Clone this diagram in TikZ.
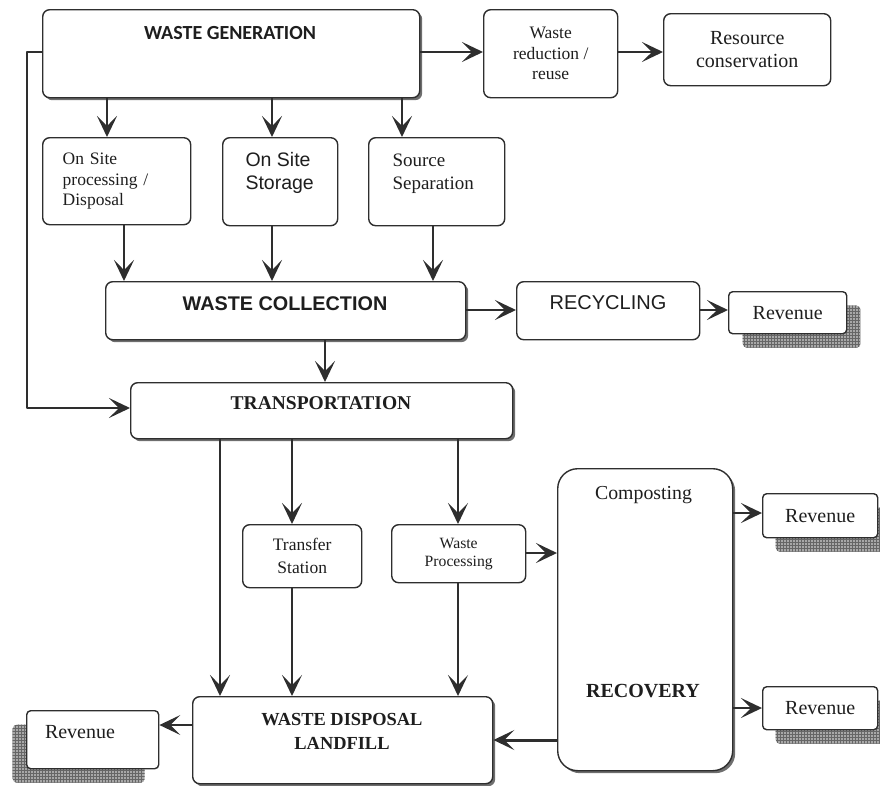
\documentclass[tikz,border=0pt]{standalone}
\usepackage{fontspec}
\setmainfont{Liberation Serif}
\setsansfont{Liberation Sans}
\newfontfamily\calfont{Carlito}
\usepackage{tikz}
\usetikzlibrary{arrows.meta,patterns,positioning,shadows}
\definecolor{swInk}{HTML}{1E1E1E}
\definecolor{swLine}{HTML}{2E2E2E}
\definecolor{swShade}{HTML}{6E6E6E}
\definecolor{swHatch}{HTML}{A8A8A8}
\newcommand\swsize[2]{\fontsize{#1}{#2}\selectfont}
\tikzset{
  sw diagram/.style={text=swInk, line join=round},
  sw plain/.style={draw=swLine, fill=white, line width=1.4pt,
    rounded corners=7pt, inner sep=0pt, anchor=north west, align=center},
  sw box/.style={sw plain, drop shadow={shadow xshift=2.5pt,
    shadow yshift=-2.5pt, fill=swShade, opacity=1}},
  sw rev/.style={sw plain, rounded corners=4pt, font=\swsize{20}{24},
    drop shadow={shadow xshift=#1, shadow yshift=-14pt, fill=swHatch, opacity=1,
      postaction={pattern=grid, pattern color=gray!80!black}}},
  sw arrow/.style={-{Stealth[length=21pt,width=20pt,inset=10pt]}, draw=swLine,
    line width=1.4pt},
  sw thick/.style={sw arrow, line width=2.3pt},
  sw bold/.style={font=\bfseries\swsize{#1}{24}},
  sw sans/.style={font=\sffamily\swsize{#1}{23}}
}
\begin{document}
\begin{tikzpicture}[sw diagram,x=1pt,y=-1pt]
\useasboundingbox (0,0) rectangle (880,785);
% top row
\node[sw box, minimum width=377pt, minimum height=88pt] (gen) at (42,9) {};
\node[font=\calfont\bfseries\swsize{20}{24}] (gentxt) at (230,33) {WASTE GENERATION};
\node[sw plain, minimum width=134pt, minimum height=88pt, font=\swsize{17.5}{20.5}]
  (red) at (483,9) {Waste\\reduction /\\reuse};
\node[sw plain, minimum width=167pt, minimum height=72pt, font=\swsize{20}{22.5}]
  (res) at (663,13) {Resource\\conservation};
% second row
\node[sw plain, minimum width=148pt, minimum height=87pt, text width=108pt,
  align=left, font=\swsize{17.5}{20.5}] (osp) at (42,137) {On Site\\processing /\\Disposal};
\node[sw plain, minimum width=115pt, minimum height=88pt] (oss) at (222,137) {};
\node[sw sans=19.5, align=left, anchor=west] (osstxt) at (242,173) {On Site\\Storage};
\node[sw plain, minimum width=136pt, minimum height=88pt] (ssp) at (368,137) {};
\node[font=\swsize{19}{23}, align=left, anchor=west] (ssptxt) at (389,173.5) {Source\\Separation};
% collection and recycling
\node[sw box, minimum width=360pt, minimum height=58pt] (col) at (105,281) {};
\node[font=\sffamily\bfseries\swsize{19.8}{24}] (coltxt) at (285,303.5) {WASTE COLLECTION};
\node[sw plain, minimum width=183pt, minimum height=58pt] (rcy) at (516,281) {};
\node[sw sans=20] (rcytxt) at (608,303) {RECYCLING};
\node[sw rev=14pt, minimum width=118pt, minimum height=42pt] (rvA) at (728,291) {Revenue};
% transportation
\node[sw box, minimum width=382pt, minimum height=56pt] (trn) at (130,382) {};
\node[sw bold=19.5] (trntxt) at (321,403) {TRANSPORTATION};
\node[sw plain, minimum width=119pt, minimum height=63pt, font=\swsize{17.5}{23}]
  (tfs) at (242,524) {Transfer\\Station};
\node[sw plain, minimum width=134pt, minimum height=58pt, font=\swsize{15.7}{18}]
  (wpr) at (391,524) {Waste\\Processing};
% recovery
\node[sw box, rounded corners=20pt, minimum width=175pt, minimum height=302pt] (rec) at (557,468) {};
\node[font=\swsize{19.8}{24}] (comp) at (643.5,495) {Composting};
\node[sw bold=20] (rectxt) at (643,691) {RECOVERY};
\node[sw rev=13pt, minimum width=115pt, minimum height=44pt] (rvB) at (762,493) {Revenue};
\node[sw rev=13pt, minimum width=115pt, minimum height=43pt] (rvC) at (762,686) {Revenue};
% disposal
\node[sw box, minimum width=300pt, minimum height=87pt] (wdl) at (192,696) {};
\node[sw bold=18.4, align=center] (wdltxt) at (342,731) {WASTE DISPOSAL\\LANDFILL};
\node[sw rev=-14pt, minimum width=132pt, minimum height=58pt] (rvD) at (26,710) {};
\node[font=\swsize{20}{24}] (rvDtxt) at (80,732) {Revenue};
% columns and rows for the connectors
\coordinate (cA) at (107,0); \coordinate (cB) at (272,0); \coordinate (cC) at (402,0);
\coordinate (dA) at (124,0); \coordinate (dC) at (433,0); \coordinate (eA) at (325,0);
\coordinate (fA) at (220,0); \coordinate (fB) at (292,0); \coordinate (fC) at (458,0);
\coordinate (rowA) at (0,52); \coordinate (rowB) at (0,310); \coordinate (rowC) at (0,553);
\coordinate (rowD) at (0,513); \coordinate (rowE) at (0,708); \coordinate (rowF) at (0,740);
\coordinate (rowG) at (0,725);
\coordinate (loopTop) at (27,52); \coordinate (loopBot) at (27,408);
% connectors
\draw[sw thick] (rowA -| gen.east) -- (rowA -| red.west);
\draw[sw thick] (rowA -| red.east) -- (rowA -| res.west);
\draw[sw arrow] (loopTop -| gen.west) -- (loopTop) -- (loopBot) -- (loopBot -| trn.west);
\foreach \c/\b in {cA/osp,cB/oss,cC/ssp}
  \draw[sw arrow] (\c |- gen.south) -- (\c |- \b.north);
\foreach \c/\b in {dA/osp,cB/oss,dC/ssp}
  \draw[sw arrow] (\c |- \b.south) -- (\c |- col.north);
\draw[sw thick] (rowB -| col.east) -- (rowB -| rcy.west);
\draw[sw thick] (rowB -| rcy.east) -- (rowB -| rvA.west);
\draw[sw arrow] (eA |- col.south) -- (eA |- trn.north);
\draw[sw arrow] (fA |- trn.south) -- (fA |- wdl.north);
\draw[sw arrow] (fB |- trn.south) -- (fB |- tfs.north);
\draw[sw arrow] (fB |- tfs.south) -- (fB |- wdl.north);
\draw[sw arrow] (fC |- trn.south) -- (fC |- wpr.north);
\draw[sw arrow] (fC |- wpr.south) -- (fC |- wdl.north);
\draw[sw thick] (rowC -| wpr.east) -- (rowC -| rec.west);
\draw[sw thick] (rowD -| rec.east) -- (rowD -| rvB.west);
\draw[sw thick] (rowE -| rec.east) -- (rowE -| rvC.west);
\draw[sw thick, line width=3pt] (rowF -| rec.west) -- (rowF -| wdl.east);
\draw[sw arrow] (rowG -| wdl.west) -- (rowG -| rvD.east);
\end{tikzpicture}
\end{document}
